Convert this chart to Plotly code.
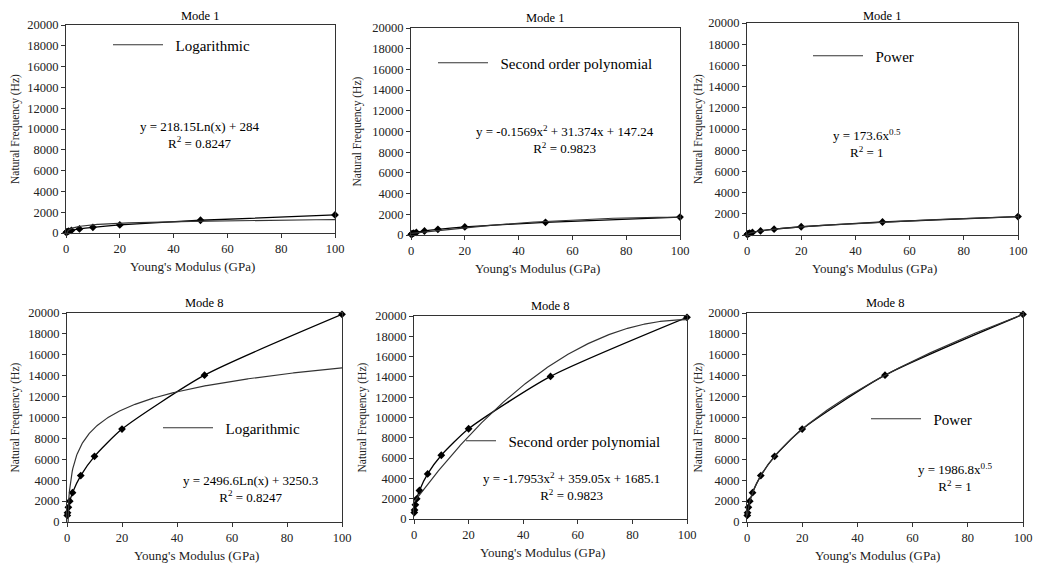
import numpy as np
import plotly.graph_objects as go

# Young's modulus values (GPa) used for every panel
youngs = [0.1, 0.2, 0.5, 1, 2, 5, 10, 20, 50, 100]

# Natural frequency (Hz)
freq_mode1 = [55, 78, 123, 174, 246, 388, 549, 776, 1228, 1736]
freq_mode8 = [630, 890, 1400, 1990, 2810, 4440, 6280, 8890, 14050, 19870]

# Trendline coefficients as printed on each panel
log_mode1 = [218.15, 284]
poly_mode1 = [-0.1569, 31.374, 147.24]
pow_mode1 = [173.6, 0.5]
log_mode8 = [2496.6, 3250.3]
poly_mode8 = [-1.7953, 359.05, 1685.1]
pow_mode8 = [1986.8, 0.5]

# Panel texts
titles = ["Mode 1", "Mode 1", "Mode 1", "Mode 8", "Mode 8", "Mode 8"]
trend_names = ["Logarithmic", "Second order polynomial", "Power",
               "Logarithmic", "Second order polynomial", "Power"]
equations = ["y = 218.15Ln(x) + 284",
             "y = -0.1569x<sup>2</sup> + 31.374x + 147.24",
             "y = 173.6x<sup>0.5</sup>",
             "y = 2496.6Ln(x) + 3250.3",
             "y = -1.7953x<sup>2</sup> + 359.05x + 1685.1",
             "y = 1986.8x<sup>0.5</sup>"]
r_squared = ["R<sup>2</sup> = 0.8247", "R<sup>2</sup> = 0.9823", "R<sup>2</sup> = 1",
             "R<sup>2</sup> = 0.8247", "R<sup>2</sup> = 0.9823", "R<sup>2</sup> = 1"]
x_title = "Young's Modulus (GPa)"
y_title = "Natural Frequency (Hz)"

W, H = 1041, 563
OFF = 8  # page body margin, the figure starts at (8, 8)
FW, FH = W - OFF, H - OFF
FONT = "Liberation Serif"

# Plot areas in page pixels: left, right, top, bottom
boxes = [(66, 335, 25, 233), (411, 680, 28, 235), (747, 1018, 23, 235),
         (67, 342, 313, 522), (414, 687, 316, 519), (747, 1023, 313, 522)]
# Legend line start (x, y), legend line length, equation first line (x, y), y-title x
legend_pos = [(115, 45), (440, 63), (815, 56), (165, 428), (468, 441), (873, 419)]
legend_len = [50, 50, 50, 50, 30, 50]
eq_pos = [(200, 127), (565, 131), (867, 136), (250, 481), (571, 478), (955, 469)]
ytitle_x = [15, 357, 698, 15, 362, 698]


def px(x):
    return (x - OFF) / FW


def py(y):
    return 1 - (y - OFF) / FH


def trend_log(c, x):
    return c[0] * np.log(x) + c[1]


def trend_poly(c, x):
    return c[0] * x ** 2 + c[1] * x + c[2]


def trend_pow(c, x):
    return c[0] * x ** c[1]


x_fit = np.linspace(0.1, 100, 500)
series = [freq_mode1, freq_mode1, freq_mode1, freq_mode8, freq_mode8, freq_mode8]
trends = [trend_log(log_mode1, x_fit), trend_poly(poly_mode1, x_fit), trend_pow(pow_mode1, x_fit),
          trend_log(log_mode8, x_fit), trend_poly(poly_mode8, x_fit), trend_pow(pow_mode8, x_fit)]

fig = go.Figure()
layout = dict(
    width=FW, height=FH,
    margin=dict(l=0, r=0, t=0, b=0),
    paper_bgcolor="white", plot_bgcolor="white",
    font=dict(family=FONT, color="#222222"),
)
annotations = []

for i in range(6):
    n = "" if i == 0 else str(i + 1)
    left, right, top, bottom = boxes[i]

    # Data series: smoothed line with diamond markers
    fig.add_trace(go.Scatter(
        x=youngs, y=series[i], mode="lines+markers",
        line=dict(color="black", width=1.3, shape="spline", smoothing=0.6),
        marker=dict(symbol="diamond", size=6, color="black"),
        cliponaxis=False, showlegend=False,
        xaxis="x" + n, yaxis="y" + n))

    # Trendline
    fig.add_trace(go.Scatter(
        x=x_fit, y=trends[i], mode="lines", name="\u00a0\u00a0" + trend_names[i],
        line=dict(color="#333333", width=1.2),
        showlegend=True, legend="legend" + n,
        xaxis="x" + n, yaxis="y" + n))

    layout["xaxis" + n] = dict(
        domain=[px(left), px(right)], anchor="y" + n, automargin=False,
        range=[0, 100], dtick=20, ticks="outside", ticklen=4,
        showline=True, mirror=True, linecolor="#333333", linewidth=1,
        tickcolor="#333333", showgrid=False, zeroline=False,
        tickfont=dict(size=12.5, family=FONT))
    layout["yaxis" + n] = dict(
        domain=[py(bottom), py(top)], anchor="x" + n, automargin=False,
        range=[0, 20000], dtick=2000, ticks="outside", ticklen=4,
        tickformat="d", separatethousands=False,
        showline=True, mirror=True, linecolor="#333333", linewidth=1,
        tickcolor="#333333", showgrid=False, zeroline=False,
        tickfont=dict(size=12.5, family=FONT))

    lx, ly = legend_pos[i]
    layout["legend" + n] = dict(
        x=px(lx - 7), y=py(ly), xanchor="left", yanchor="middle",
        bgcolor="rgba(0,0,0,0)", borderwidth=0, itemwidth=legend_len[i],
        font=dict(size=15, family=FONT, color="black"))

    # Panel title (kept clear of the page's top edge)
    annotations.append(dict(
        text=titles[i], xref="paper", yref="paper",
        x=px((left + right) / 2), y=py(max(top - 10, 16)),
        xanchor="center", yanchor="middle", showarrow=False,
        font=dict(size=12.5, family=FONT, color="black")))

    # Axis titles
    annotations.append(dict(
        text=x_title, xref="paper", yref="paper",
        x=px((left + right) / 2 - 8), y=py(bottom + 33),
        xanchor="center", yanchor="middle", showarrow=False,
        font=dict(size=13, family=FONT, color="#222222")))
    annotations.append(dict(
        text=y_title, xref="paper", yref="paper", textangle=-90,
        x=px(ytitle_x[i]), y=py((top + bottom) / 2),
        xanchor="center", yanchor="middle", showarrow=False,
        font=dict(size=11.5, family=FONT, color="#222222")))

    # Trendline equation and R squared
    ex, ey = eq_pos[i]
    annotations.append(dict(
        text=equations[i] + "<br>" + r_squared[i], xref="paper", yref="paper",
        x=px(ex), y=py(ey + 8), xanchor="center", yanchor="middle",
        showarrow=False, align="center",
        font=dict(size=13, family=FONT, color="black")))

layout["annotations"] = annotations
fig.update_layout(**layout)

fig.write_html("out.html")
